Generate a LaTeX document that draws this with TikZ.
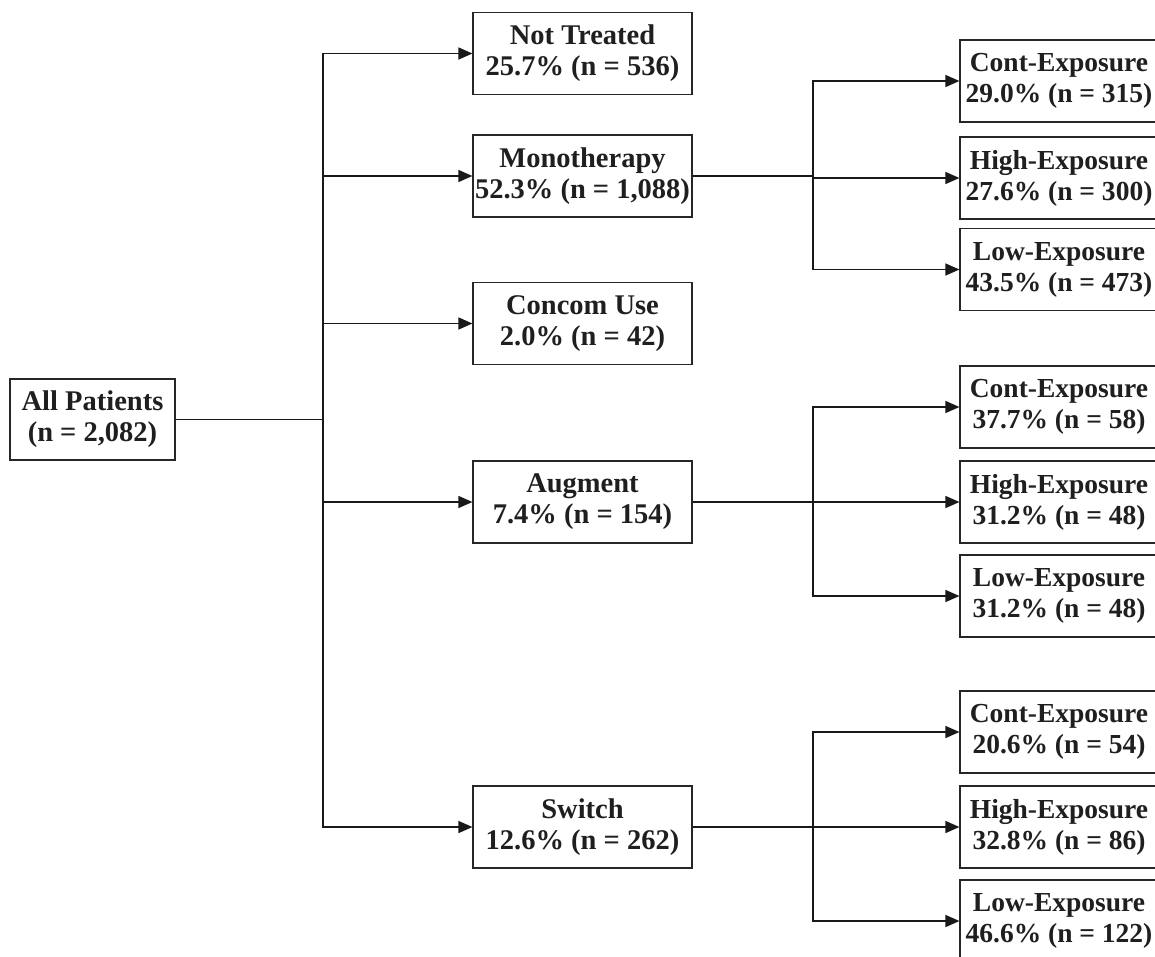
\documentclass[tikz,border=0pt]{standalone}
\usepackage{fontspec}
\setmainfont{Liberation Serif}
\usetikzlibrary{arrows.meta}
\begin{document}
\begin{tikzpicture}[x=1pt,y=-1pt,
  line width=1.4pt,
  box/.style={draw=black!85, line width=1.2pt, fill=white, minimum width=219pt, minimum height=82pt, align=center, inner sep=0pt,
    font=\fontsize{28.5}{31}\selectfont\bfseries, text=black!88},
  rbox/.style={box, minimum width=198pt, font=\fontsize{27.5}{31}\selectfont\bfseries},
  conn/.style={draw=black!90, line width=1.4pt},
  arr/.style={conn, -{Triangle[length=14pt,width=12pt]}}]
\useasboundingbox (0,0) rectangle (1155,956);
\clip (0,0) rectangle (1155,956);
\fill[white] (0,0) rectangle (1155,956);
% root
\node[box, minimum width=165pt, minimum height=81pt] (all) at (92.5,419.5) {All Patients\\(n = 2,082)};
% middle
\node[box] (nt) at (582.5,53.5) {Not Treated\\25.7\% (n = 536)};
\node[box] (mono) at (582.5,176) {Monotherapy\\52.3\% (n = 1,088)};
\node[box] (conc) at (582.5,323.5) {Concom Use\\2.0\% (n = 42)};
\node[box] (aug) at (582.5,502) {Augment\\7.4\% (n = 154)};
\node[box] (sw) at (582.5,827) {Switch\\12.6\% (n = 262)};
% right: monotherapy
\node[rbox] (mc) at (1059,81) {Cont-Exposure\\29.0\% (n = 315)};
\node[rbox] (mh) at (1059,178) {High-Exposure\\27.6\% (n = 300)};
\node[rbox] (ml) at (1059,269.5) {Low-Exposure\\43.5\% (n = 473)};
% right: augment
\node[rbox] (ac) at (1059,407) {Cont-Exposure\\37.7\% (n = 58)};
\node[rbox] (ah) at (1059,502) {High-Exposure\\31.2\% (n = 48)};
\node[rbox] (al) at (1059,596) {Low-Exposure\\31.2\% (n = 48)};
% right: switch
\node[rbox] (sc) at (1059,732) {Cont-Exposure\\20.6\% (n = 54)};
\node[rbox] (sh) at (1059,827) {High-Exposure\\32.8\% (n = 86)};
\node[rbox] (sl) at (1059,921) {Low-Exposure\\46.6\% (n = 122)};
% trunk
\coordinate (t) at (323,419.5);
\draw[conn] (all.east) -- (t);
\foreach \b in {nt,mono,conc,aug,sw} \draw[arr] (t) |- (\b.west);
% monotherapy branch
\coordinate (tm) at (813,176);
\draw[conn] (mono.east) -- (tm);
\foreach \b in {mc,mh,ml} \draw[arr] (tm) |- (\b.west);
% augment branch
\coordinate (ta) at (813,502);
\draw[conn] (aug.east) -- (ta);
\foreach \b in {ac,ah,al} \draw[arr] (ta) |- (\b.west);
% switch branch
\coordinate (ts) at (813,827);
\draw[conn] (sw.east) -- (ts);
\foreach \b in {sc,sh,sl} \draw[arr] (ts) |- (\b.west);
\end{tikzpicture}
\end{document}
